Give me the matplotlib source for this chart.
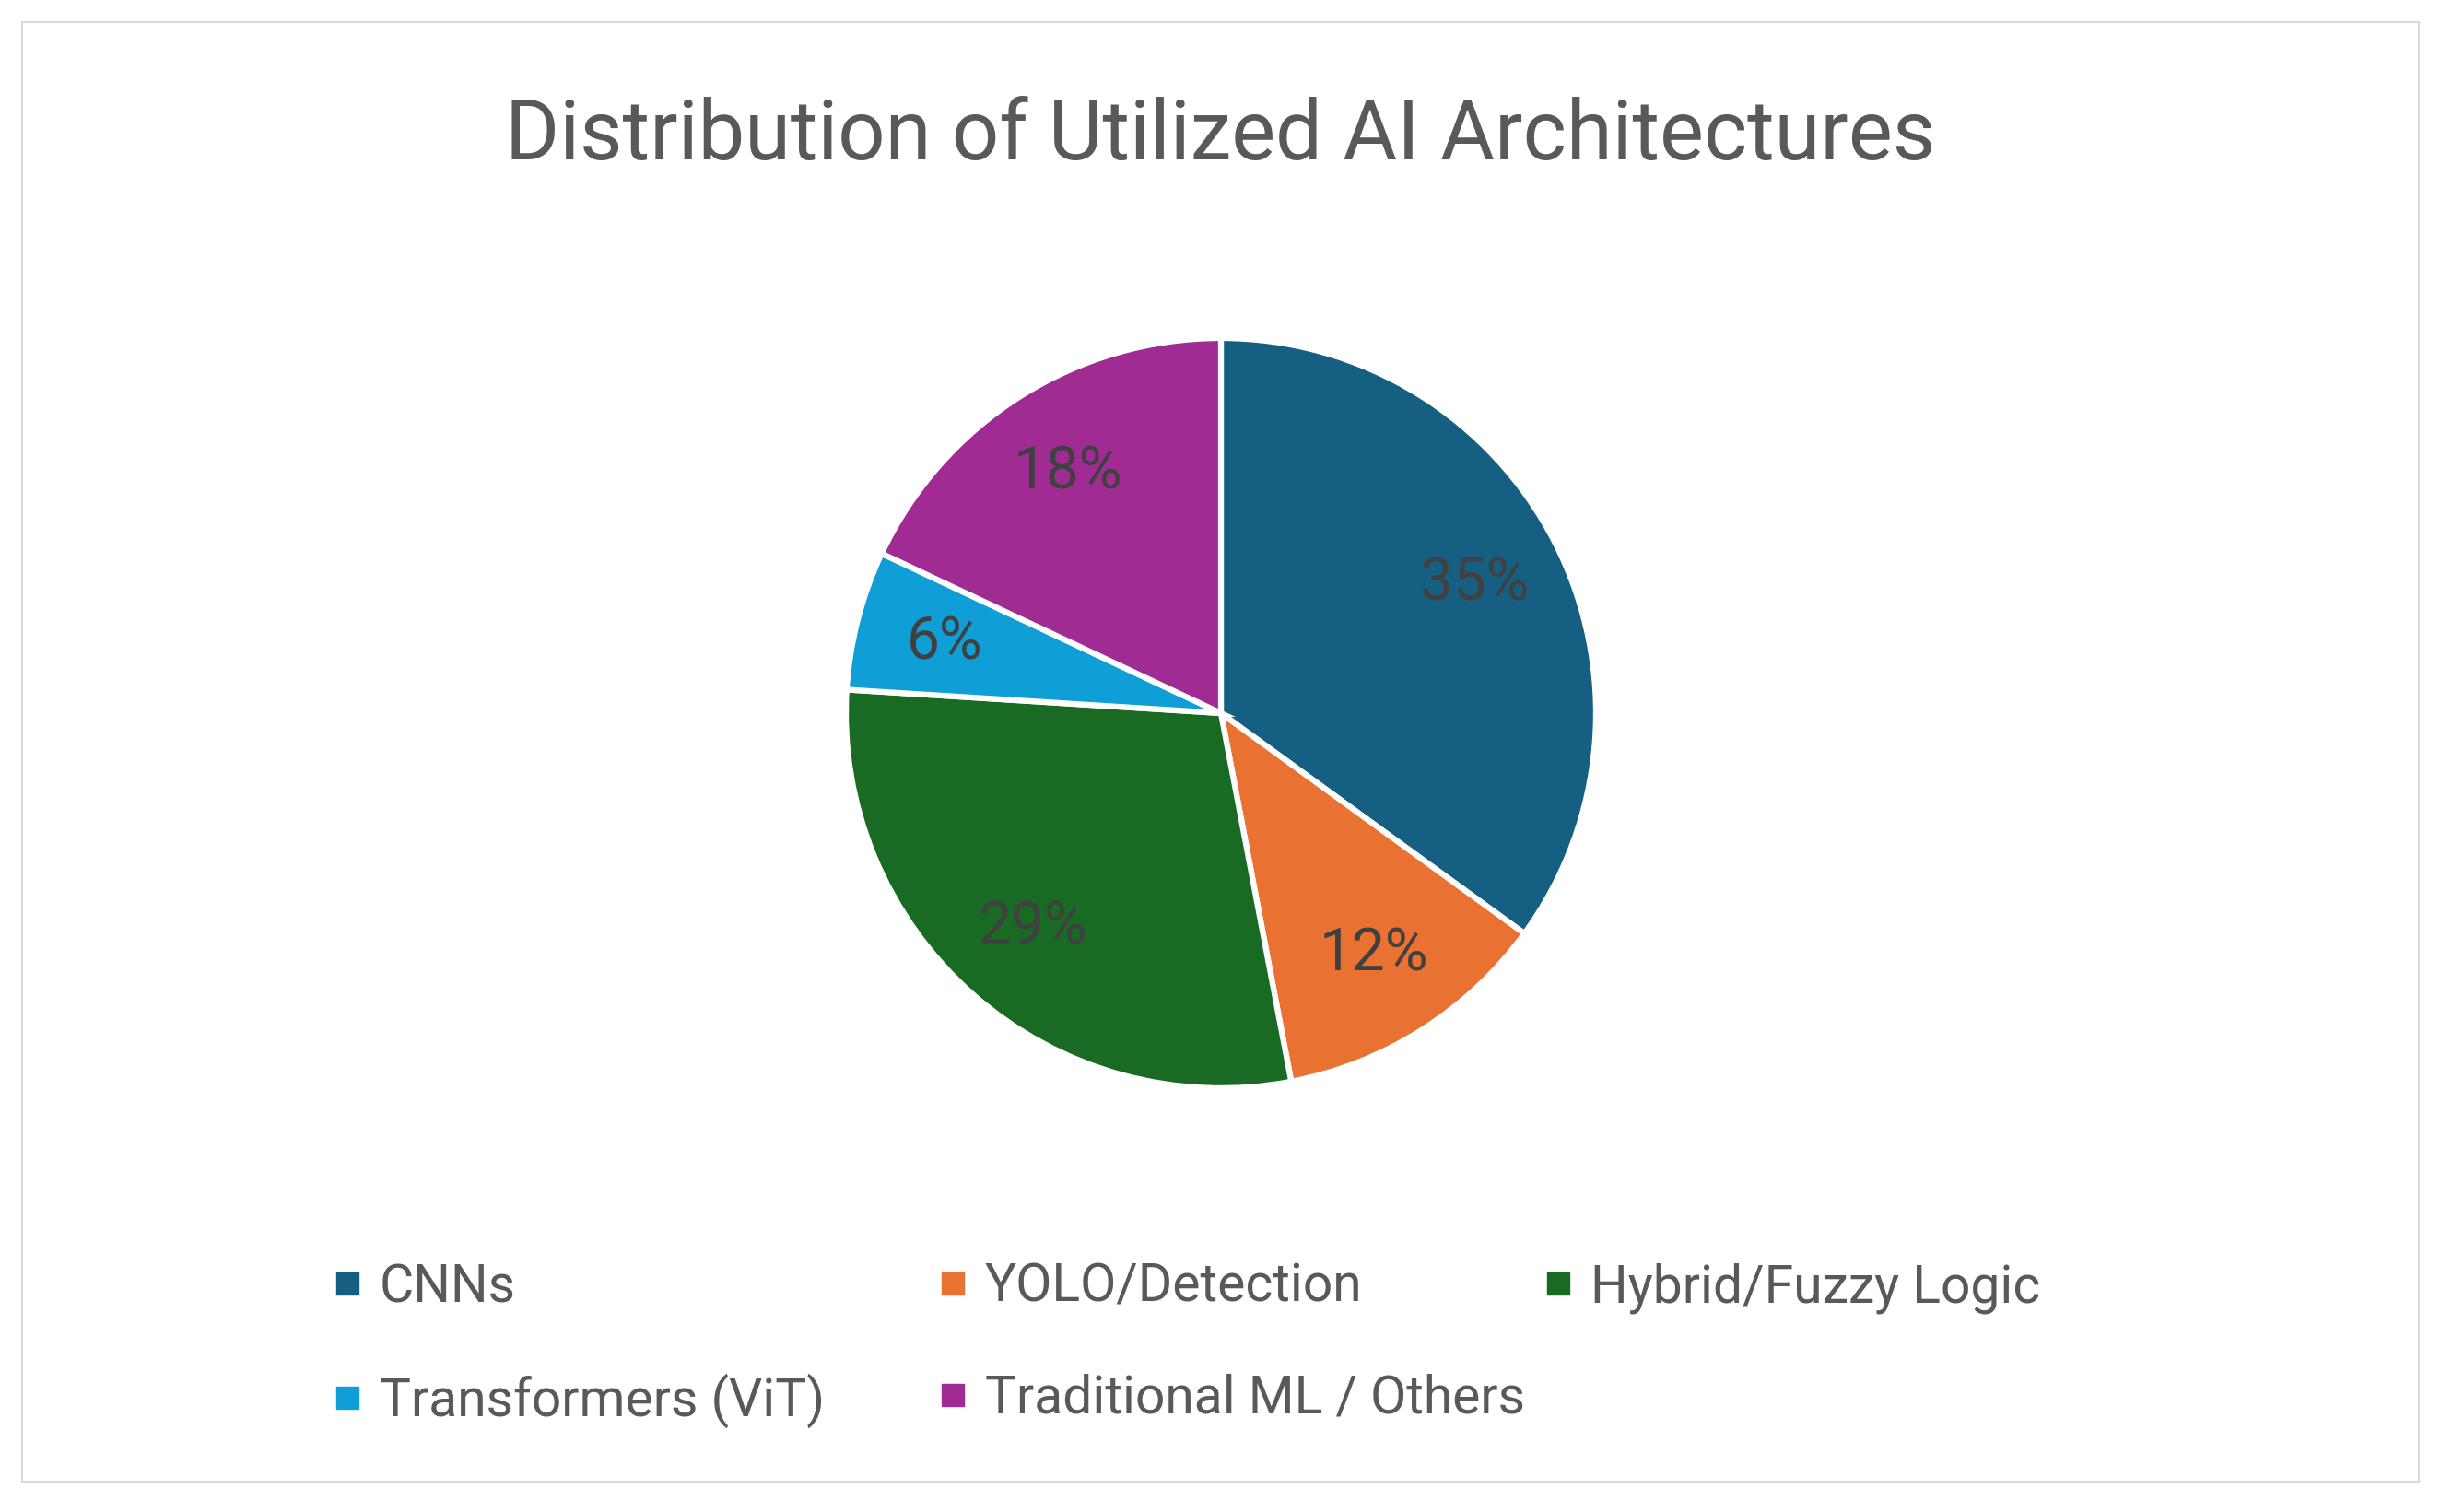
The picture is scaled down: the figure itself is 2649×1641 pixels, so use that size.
import matplotlib
matplotlib.use("Agg")
import matplotlib.pyplot as plt
from matplotlib.lines import Line2D
from matplotlib.patches import Rectangle

categories = ["CNNs", "YOLO/Detection", "Hybrid/Fuzzy Logic", "Transformers (ViT)", "Traditional ML / Others"]
values = [35, 12, 29, 6, 18]
colors = ["#156082", "#E97132", "#196B24", "#0F9ED5", "#A02B93"]
title = "Distribution of Utilized AI Architectures"

plt.rcParams['font.family'] = ['Roboto', 'DejaVu Sans']

W, H = 2649, 1641
fig = plt.figure(figsize=(W / 100, H / 100), dpi=100)
fig.patch.set_facecolor("white")

# outer border
fig.patches.append(Rectangle((24 / W, 1 - 1608 / H), (2625 - 24) / W, (1608 - 24) / H,
                             transform=fig.transFigure, fill=False, edgecolor="#D9D9D9", linewidth=1.5))

# pie
cx, cy, r = 1325, 774, 407
ax = fig.add_axes([(cx - r) / W, (H - cy - r) / H, 2 * r / W, 2 * r / H])
wedges, texts, autotexts = ax.pie(values, colors=colors, startangle=90, counterclock=False,
                                  radius=1.0, autopct=lambda p: f"{p:.0f}%", pctdistance=0.76,
                                  wedgeprops=dict(edgecolor="white", linewidth=4.5),
                                  textprops=dict(color="#404040", fontsize=46))
ax.set_xlim(-1, 1)
ax.set_ylim(-1, 1)
ax.set_aspect("equal")
ax.axis("off")

fig.text(0.5, 1 - 173 / H, title, ha="center", va="baseline", fontsize=65, color="#595959")

# legend in three columns
cols = [[0, 3], [1, 4], [2]]
col_x = [366, 1023, 1680]
for xs, idxs in zip(col_x, cols):
    handles = [Line2D([], [], marker="s", linestyle="none", markersize=17,
                      markerfacecolor=colors[i], markeredgecolor=colors[i]) for i in idxs]
    labels = [categories[i] for i in idxs]
    fig.legend(handles, labels, loc="upper left", bbox_to_anchor=(xs / W, 1 - 1370 / H),
               frameon=False, fontsize=41, handlelength=0.4, handletextpad=0.4,
               labelspacing=1.15, borderpad=0, borderaxespad=0, labelcolor="#595959")

fig.savefig("out.png", dpi=100)
